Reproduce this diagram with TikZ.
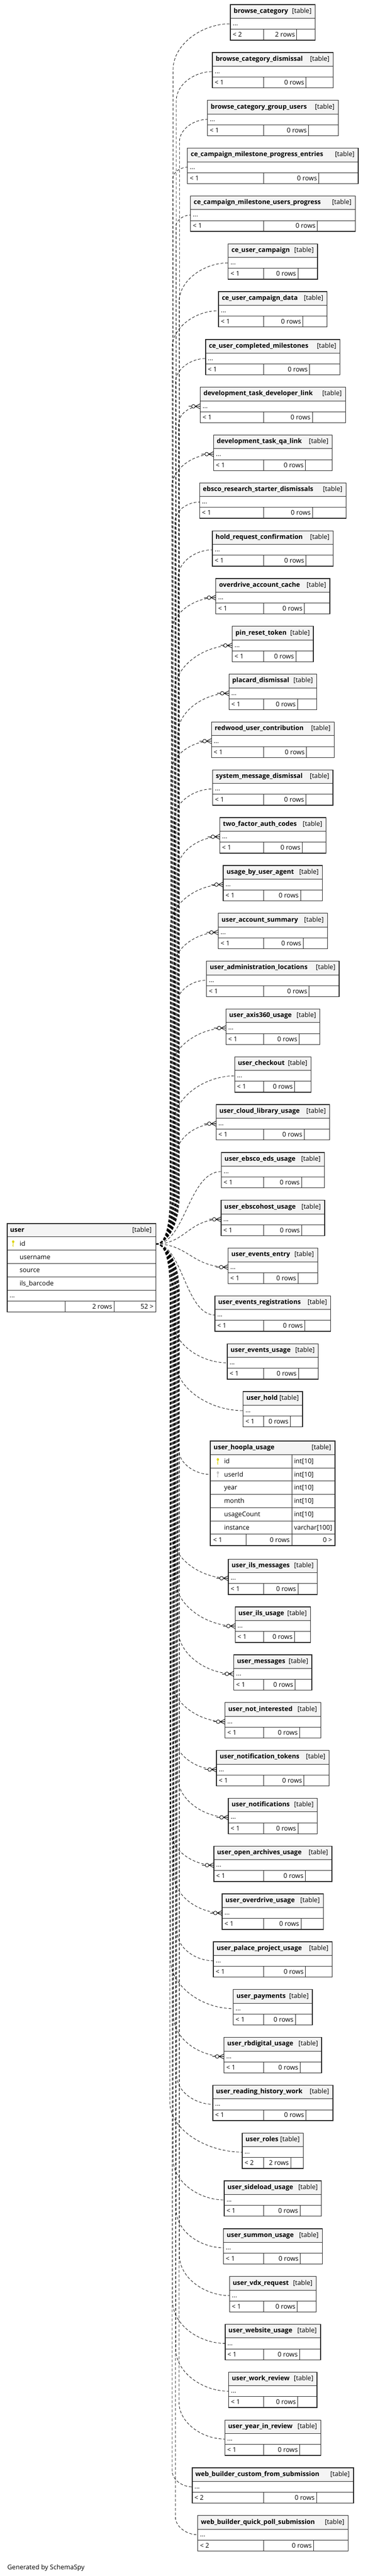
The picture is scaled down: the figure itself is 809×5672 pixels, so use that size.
\documentclass[tikz,border=0pt]{standalone}
\usepackage{fontspec}
\setmainfont{Open Sans}
\usetikzlibrary{calc,decorations.markings}
\definecolor{hdrgray}{HTML}{F4F4F4}
\definecolor{keyyellow}{HTML}{DDD400}
\definecolor{keygray}{HTML}{C4C4C4}
\definecolor{edge}{HTML}{262626}
\newcommand\ttlfont{\fontsize{14.3}{17}\selectfont\bfseries}
\newcommand\txtfont{\fontsize{14.3}{17}\selectfont}
\newlength\tblen
\newcommand\measuretitle[1]{%
  \pgfinterruptpicture
  \settowidth{\tblen}{\ttlfont #1}\global\tblen=\tblen
  \endpgfinterruptpicture}
\newcommand\crowmark{%
  \draw[solid,line width=1pt] (-26,0)--(-19,0);
  \draw[solid,line width=1pt,fill=white] (-15,0) circle[radius=4];
  \draw[solid,line width=1pt] (-11,0)--(0,5.5) (-11,0)--(0,-5.5) (-11,0)--(0,0);}
\tikzset{
  tbline/.style={draw=edge, line width=1.1pt},
  tbouter/.style={draw=edge, line width=1.5pt},
  ttl/.style={inner sep=0pt, font=\ttlfont},
  txt/.style={inner sep=0pt, font=\txtfont},
  rel/.style={draw=black, line width=0.9pt, dash pattern=on 6pt off 4pt,
    postaction={decorate},
    decoration={markings, mark=at position 1 with {\crowmark}}},
}
% connector from the user port to a child port
\newcommand\tbconn[3]{%
  \pgfmathsetmacro\qdy{#3-2739}%
  \pgfmathsetmacro\qsg{\qdy<0 ? -1 : 1}%
  \pgfmathsetmacro\qbx{374+mod(7*\tbk,22)}%
  \pgfmathsetmacro\qdx{#2-\qbx}%
  \pgfmathsetmacro\qR{min(0.8*\qdx,110)}%
  \pgfmathtruncatemacro\qtest{abs(\qdy)>(125+\qR) ? 1 : 0}%
  \ifnum\qtest=1
    \pgfmathsetmacro\qyA{2739+\qsg*30}%
    \pgfmathsetmacro\qyB{2739+\qsg*110}%
    \pgfmathsetmacro\qyC{#3-\qsg*\qR}%
    \pgfmathsetmacro\qyD{#3-\qsg*0.45*\qR}%
    \pgfmathsetmacro\qxE{#2-0.5*\qdx}%
    \draw[rel] (up) .. controls (362,2739) and (\qbx,\qyA) .. (\qbx,\qyB) -- (\qbx,\qyC) .. controls (\qbx,\qyD) and (\qxE,#3) .. (#1);
  \else
    \pgfmathsetmacro\qxA{343+0.45*(#2-343)}%
    \pgfmathsetmacro\qxB{#2-0.5*(#2-343)}%
    \draw[rel] (up) .. controls (\qxA,2739) and (\qxB,#3) .. (#1);
  \fi}
% small collapsed table: #1 index, #2 title, #3 parents, #4 rows
\newcommand\smtable[4]{%
  \def\tbk{#1}%
  \measuretitle{#2}%
  \pgfmathsetmacro\tbT{#1<31 ? 10.3+(#1-1)*105.3 : 3433+(#1-32)*105.3}%
  \pgfmathsetmacro\tbW{1.1*\tblen+55}%
  \pgfmathsetmacro\tbL{600.5-\tbW/2}%
  \pgfmathsetmacro\tbR{600.5+\tbW/2}%
  \pgfmathsetmacro\tbS{\tbR-(0.2435*\tbW-5)}%
  \pgfmathsetmacro\tbY{\tbT+42}%
  \fill[hdrgray] (\tbL,\tbT) rectangle (\tbR,\tbT+30);
  \draw[tbline] (\tbL,\tbT+30) -- (\tbR,\tbT+30) (\tbL,\tbT+54) -- (\tbR,\tbT+54)
    (580,\tbT+54) -- (580,\tbT+78) (\tbS,\tbT+54) -- (\tbS,\tbT+78);
  \draw[tbouter] (\tbL,\tbT) rectangle (\tbR,\tbT+78);
  \node[ttl,anchor=base west] (t#1n) at (\tbL+7,\tbT+18.5) {#2};
  \node[txt,anchor=base east] (t#1k) at (\tbR-8,\tbT+18.5) {[table]};
  \node[txt,anchor=base west] (t#1d) at (\tbL+5,\tbT+46) {...};
  \node[txt,anchor=base west] (t#1p) at (\tbL+5,\tbT+71) {#3};
  \node[txt,anchor=base east] (t#1r) at (\tbS-4,\tbT+71) {#4};
  \coordinate (t#1) at (\tbL,\tbY);
  \tbconn{t#1}{\tbL}{\tbY}}
\newcommand\keyicon[3]{% #1 colour, #2 x, #3 y (centre)
  \fill[#1] (#2,#3-4) ellipse[x radius=2.6, y radius=3];
  \draw[#1, line width=1.6pt] (#2,#3-3) -- (#2,#3+7);
  \draw[#1, line width=1.2pt] (#2,#3+4) -- (#2-2.2,#3+4);}

\begin{document}
\begin{tikzpicture}[x=1pt,y=-1pt]
\fill[white] (0,0) rectangle (809,5672);
\useasboundingbox (0,0) rectangle (809,5672);

% ---------- user table ----------
\coordinate (up) at (343,2739);
\fill[hdrgray] (16,2694) rectangle (343,2723);
\draw[tbline] (16,2723) -- (343,2723) (16,2753) -- (343,2753) (16,2782) -- (343,2782)
  (16,2811) -- (343,2811) (16,2841) -- (343,2841) (16,2865) -- (343,2865)
  (143,2865) -- (143,2889) (251,2865) -- (251,2889);
\draw[tbouter] (16,2694) rectangle (343,2889);
\node[ttl,anchor=base west] (utitle) at (22,2713) {user};
\node[txt,anchor=base east] (ukind) at (334,2713) {[table]};
\keyicon{keyyellow}{29}{2738}
\node[txt,anchor=base west] (uid) at (43,2743) {id};
\node[txt,anchor=base west] (uname) at (43,2772.5) {username};
\node[txt,anchor=base west] (usrc) at (43,2801.5) {source};
\node[txt,anchor=base west] (ubar) at (43,2831) {ils\_barcode};
\node[txt,anchor=base west] (udots) at (21,2857) {...};
\node[txt,anchor=base east] (urows) at (247,2882) {2 rows};
\node[txt,anchor=base east] (uchild) at (338,2882) {52 >};

% ---------- user_hoopla_usage ----------
\fill[hdrgray] (463,3173) rectangle (737,3203);
\draw[tbline] (463,3203) -- (737,3203) (463,3232) -- (737,3232) (463,3261) -- (737,3261)
  (463,3290) -- (737,3290) (463,3320) -- (737,3320) (463,3349) -- (737,3349)
  (463,3378) -- (737,3378) (643,3203) -- (643,3403) (542,3378) -- (542,3403);
\draw[draw=edge, line width=2.6pt] (463,3173) rectangle (737,3403);
\node[ttl,anchor=base west] (hname) at (470,3192) {user\_hoopla\_usage};
\node[txt,anchor=base east] (hkind) at (729,3192) {[table]};
\keyicon{keyyellow}{479.5}{3217.5}
\keyicon{keygray}{479.5}{3246.5}
\node[txt,anchor=base west] (hc1) at (493,3222.5) {id};
\node[txt,anchor=base west] (hc2) at (493,3251.5) {userId};
\node[txt,anchor=base west] (hc3) at (493,3280.5) {year};
\node[txt,anchor=base west] (hc4) at (493,3310) {month};
\node[txt,anchor=base west] (hc5) at (493,3339.5) {usageCount};
\node[txt,anchor=base west] (hc6) at (493,3368.5) {instance};
\node[txt,anchor=base west] (ht1) at (647,3222.5) {int[10]};
\node[txt,anchor=base west] (ht2) at (647,3251.5) {int[10]};
\node[txt,anchor=base west] (ht3) at (647,3280.5) {int[10]};
\node[txt,anchor=base west] (ht4) at (647,3310) {int[10]};
\node[txt,anchor=base west] (ht5) at (647,3339.5) {int[10]};
\node[txt,anchor=base west] (ht6) at (647,3368.5) {varchar[100]};
\node[txt,anchor=base west] (hpar) at (469,3396) {< 1};
\node[txt,anchor=base east] (hrows) at (638,3396) {0 rows};
\node[txt,anchor=base east] (hchild) at (731,3396) {0 >};
\coordinate (t31) at (463,3246.5);
\def\tbk{31}
\tbconn{t31}{463}{3246.5}

% ---------- collapsed tables ----------
\smtable{1}{browse\_category}{< 2}{2 rows}
\smtable{2}{browse\_category\_dismissal}{< 1}{0 rows}
\smtable{3}{browse\_category\_group\_users}{< 1}{0 rows}
\smtable{4}{ce\_campaign\_milestone\_progress\_entries}{< 1}{0 rows}
\smtable{5}{ce\_campaign\_milestone\_users\_progress}{< 1}{0 rows}
\smtable{6}{ce\_user\_campaign}{< 1}{0 rows}
\smtable{7}{ce\_user\_campaign\_data}{< 1}{0 rows}
\smtable{8}{ce\_user\_completed\_milestones}{< 1}{0 rows}
\smtable{9}{development\_task\_developer\_link}{< 1}{0 rows}
\smtable{10}{development\_task\_qa\_link}{< 1}{0 rows}
\smtable{11}{ebsco\_research\_starter\_dismissals}{< 1}{0 rows}
\smtable{12}{hold\_request\_confirmation}{< 1}{0 rows}
\smtable{13}{overdrive\_account\_cache}{< 1}{0 rows}
\smtable{14}{pin\_reset\_token}{< 1}{0 rows}
\smtable{15}{placard\_dismissal}{< 1}{0 rows}
\smtable{16}{redwood\_user\_contribution}{< 1}{0 rows}
\smtable{17}{system\_message\_dismissal}{< 1}{0 rows}
\smtable{18}{two\_factor\_auth\_codes}{< 1}{0 rows}
\smtable{19}{usage\_by\_user\_agent}{< 1}{0 rows}
\smtable{20}{user\_account\_summary}{< 1}{0 rows}
\smtable{21}{user\_administration\_locations}{< 1}{0 rows}
\smtable{22}{user\_axis360\_usage}{< 1}{0 rows}
\smtable{23}{user\_checkout}{< 1}{0 rows}
\smtable{24}{user\_cloud\_library\_usage}{< 1}{0 rows}
\smtable{25}{user\_ebsco\_eds\_usage}{< 1}{0 rows}
\smtable{26}{user\_ebscohost\_usage}{< 1}{0 rows}
\smtable{27}{user\_events\_entry}{< 1}{0 rows}
\smtable{28}{user\_events\_registrations}{< 1}{0 rows}
\smtable{29}{user\_events\_usage}{< 1}{0 rows}
\smtable{30}{user\_hold}{< 1}{0 rows}
\smtable{32}{user\_ils\_messages}{< 1}{0 rows}
\smtable{33}{user\_ils\_usage}{< 1}{0 rows}
\smtable{34}{user\_messages}{< 1}{0 rows}
\smtable{35}{user\_not\_interested}{< 1}{0 rows}
\smtable{36}{user\_notification\_tokens}{< 1}{0 rows}
\smtable{37}{user\_notifications}{< 1}{0 rows}
\smtable{38}{user\_open\_archives\_usage}{< 1}{0 rows}
\smtable{39}{user\_overdrive\_usage}{< 1}{0 rows}
\smtable{40}{user\_palace\_project\_usage}{< 1}{0 rows}
\smtable{41}{user\_payments}{< 1}{0 rows}
\smtable{42}{user\_rbdigital\_usage}{< 1}{0 rows}
\smtable{43}{user\_reading\_history\_work}{< 1}{0 rows}
\smtable{44}{user\_roles}{< 2}{2 rows}
\smtable{45}{user\_sideload\_usage}{< 1}{0 rows}
\smtable{46}{user\_summon\_usage}{< 1}{0 rows}
\smtable{47}{user\_vdx\_request}{< 1}{0 rows}
\smtable{48}{user\_website\_usage}{< 1}{0 rows}
\smtable{49}{user\_work\_review}{< 1}{0 rows}
\smtable{50}{user\_year\_in\_review}{< 1}{0 rows}
\smtable{51}{web\_builder\_custom\_from\_submission}{< 2}{0 rows}
\smtable{52}{web\_builder\_quick\_poll\_submission}{< 2}{0 rows}

\node[txt,anchor=base west] (gen) at (16,5658) {Generated by SchemaSpy};
\end{tikzpicture}
\end{document}
